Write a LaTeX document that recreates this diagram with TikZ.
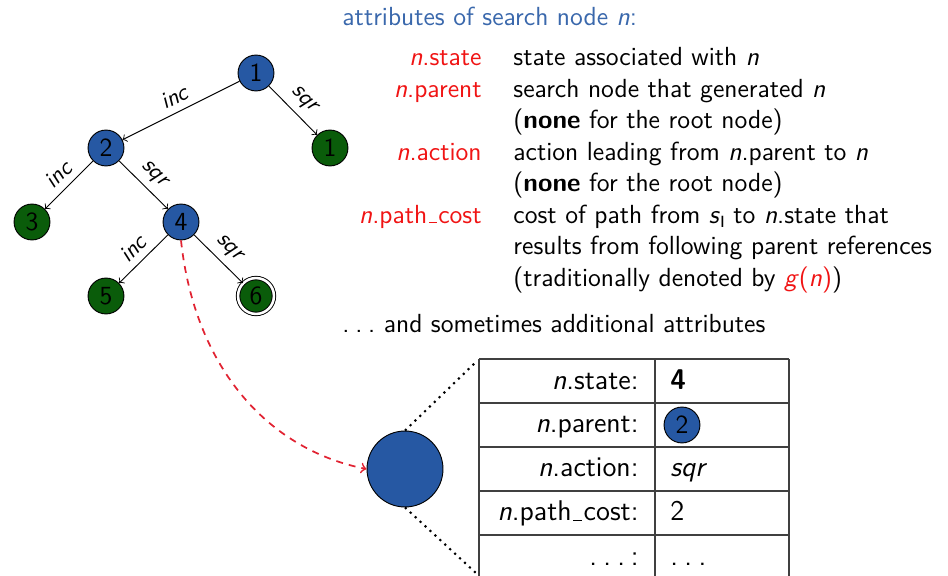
\documentclass[tikz,border=0pt]{standalone}
\usepackage{fontspec}
\definecolor{nodeblue}{RGB}{38,88,163}
\definecolor{nodegreen}{RGB}{10,92,10}
\definecolor{titleblue}{RGB}{58,104,172}
\definecolor{labred}{RGB}{240,20,20}
\definecolor{dashred}{RGB}{225,35,50}
\newcommand\usc{\leavevmode\kern.06em\vbox{\hrule width.3em height 0.45pt}\kern.06em}
\newcommand\sdots{.\kern0.22em.\kern0.22em.}
\begin{document}
\begin{tikzpicture}[x=0.4318pt,y=-0.4318pt,
  font=\fontsize{11.3}{13.6}\selectfont\sffamily,
  tnode/.style={circle,draw=black,fill=nodeblue,minimum size=15.5pt,inner sep=0pt},
  gnode/.style={circle,draw=black,fill=nodegreen,minimum size=15.5pt,inner sep=0pt},
  edge/.style={->,black},
  elab/.style={sloped,above,font=\fontsize{10}{12}\selectfont\sffamily\itshape,inner sep=3pt},
  attr/.style={anchor=base east,text=labred,inner sep=0pt},
  desc/.style={anchor=base west,inner sep=0pt},
  tabl/.style={anchor=base east,inner sep=0pt,font=\fontsize{12.3}{14}\selectfont\sffamily},
  tabr/.style={anchor=base west,inner sep=0pt,font=\fontsize{12.3}{14}\selectfont\sffamily},
  tline/.style={black!75,line width=0.5pt}]
\useasboundingbox (0,0) rectangle (948,576);
% tree
\node[tnode] (n1) at (256,73) {1};
\node[tnode] (n2) at (106,148) {2};
\node[gnode] (n1b) at (330,148) {1};
\node[gnode] (n3) at (32,222) {3};
\node[tnode] (n4) at (181,222) {4};
\node[gnode] (n5) at (106,296) {5};
\node[gnode,double=white,double distance=1.1pt] (n6) at (256,296) {6};
\draw[edge] (n1) -- node[elab]{inc} (n2);
\draw[edge] (n1) -- node[elab]{sqr} (n1b);
\draw[edge] (n2) -- node[elab]{inc} (n3);
\draw[edge] (n2) -- node[elab]{sqr} (n4);
\draw[edge] (n4) -- node[elab]{inc} (n5);
\draw[edge] (n4) -- node[elab]{sqr} (n6);
% big node
\node[circle,draw=black,fill=nodeblue,minimum size=32.8pt,inner sep=0pt] (big) at (405,469) {};
\draw[->,dashred,dash pattern=on 3pt off 2.6pt,line width=0.75pt] (n4.south) .. controls (195,370) and (270,450) .. (big.west);
\coordinate (tt) at (477,361);
\coordinate (tb) at (477,574);
\draw[dotted,line width=0.9pt] (big.north) -- (tt);
\draw[dotted,line width=0.9pt] (big.south) -- (tb);
% text block
\node[anchor=base west,inner sep=0pt,text=titleblue] (title) at (342,26) {attributes of search node \textit{n}:};
\node[attr] (a1) at (482,66) {\textit{n}.state};
\node[desc] (d1) at (513,66) {state associated with \textit{n}};
\node[attr] (a2) at (482,97.5) {\textit{n}.parent};
\node[desc] (d2) at (513,97.5) {search node that generated \textit{n}};
\node[desc] (d2b) at (513,129) {(\textbf{none} for the root node)};
\node[attr] (a3) at (482,160.5) {\textit{n}.action};
\node[desc] (d3) at (513,160.5) {action leading from \textit{n}.parent to \textit{n}};
\node[desc] (d3b) at (513,192) {(\textbf{none} for the root node)};
\node[attr] (a4) at (482,223.5) {\textit{n}.path\usc cost};
\node[desc] (d4) at (513,223.5) {cost of path from \textit{s}\raisebox{-0.35ex}{\fontsize{7}{8}\selectfont I} to \textit{n}.state that};
\node[desc] (d4b) at (513,255) {results from following parent references};
\node[desc] (d4c) at (513,286.5) {(traditionally denoted by \textcolor{labred}{\textit{g}(\textit{n})})};
\node[anchor=base west,inner sep=0pt] (more) at (342,333) {\sdots\ and sometimes additional attributes};
% table
\foreach \y in {359,403,447,491,535} \draw[tline] (479,\y) -- (789,\y);
\draw[tline] (479,359) -- (479,590);
\draw[tline] (655,359) -- (655,590);
\draw[tline] (789,359) -- (789,590);
\node[tabl] (l1) at (639,390) {\textit{n}.state:};
\node[tabr] (r1) at (670,390) {\textbf{4}};
\node[tabl] (l2) at (639,433) {\textit{n}.parent:};
\node[tnode] (r2) at (682,425) {2};
\node[tabl] (l3) at (639,477) {\textit{n}.action:};
\node[tabr] (r3) at (670,477) {\textit{sqr}};
\node[tabl] (l4) at (639,521) {\textit{n}.path\usc cost:};
\node[tabr] (r4) at (670,521) {2};
\node[tabl] (l5) at (639,566) {\sdots\kern0.2em:};
\node[tabr] (r5) at (670,566) {\sdots};
\end{tikzpicture}
\end{document}
